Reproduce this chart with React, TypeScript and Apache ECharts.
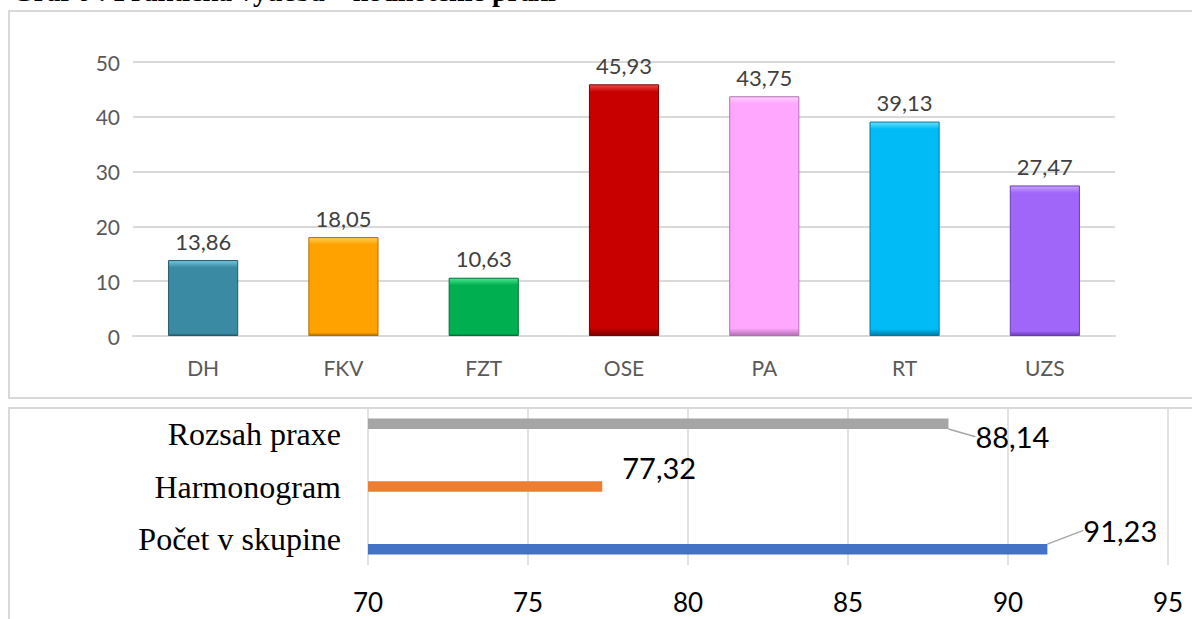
import React, { useEffect, useRef } from "react";
import * as echarts from "echarts";

// ---- Top chart data ----
const categories = ["DH", "FKV", "FZT", "OSE", "PA", "RT", "UZS"];
const values = [13.86, 18.05, 10.63, 45.93, 43.75, 39.13, 27.47];
const barColors = ["#3a8aa3", "#ffa200", "#00b050", "#c80000", "#ffa6ff", "#00bbf5", "#a066fa"];
const barHighlights = ["#74c8e0", "#ffd050", "#48e890", "#f04a4a", "#ffd2ff", "#66e2ff", "#c8a4ff"];
const barEdges = ["#245a6c", "#b06e00", "#00703a", "#7a0000", "#b070b0", "#0079a3", "#6a3cb3"];
const yTicksTop = { min: 0, max: 50, interval: 10 };

// ---- Bottom chart data ----
const rankCategories = ["Počet v skupine", "Harmonogram", "Rozsah praxe"];
const rankValues = [91.23, 77.32, 88.14];
const rankColors = ["#4472c4", "#ed7d31", "#a5a5a5"];
const xTicksBottom = { min: 70, max: 95, interval: 5 };

const title = "Graf 6 : Praktická výučba – hodnotenie praxí";

const fmt = (v: number) => String(v).replace(".", ",");

export default function App() {
  const ref = useRef<HTMLDivElement>(null);

  useEffect(() => {
    if (!ref.current) return;
    const chart = echarts.init(ref.current, null, { renderer: "svg" });

    const topPlotHeight = 274;
    const topBars = values.map((v, i) => {
      const px = (v / yTicksTop.max) * topPlotHeight;
      const hl = Math.min(0.5, 7 / px);
      return {
        value: v,
        itemStyle: {
          color: {
            type: "linear",
            x: 0,
            y: 0,
            x2: 0,
            y2: 1,
            colorStops: [
              { offset: 0, color: barHighlights[i] },
              { offset: hl, color: barColors[i] },
              { offset: 0.97, color: barColors[i] },
              { offset: 1, color: barEdges[i] },
            ],
          },
          borderColor: barEdges[i],
          borderWidth: 1,
        },
      };
    });

    // bottom: series order top-of-band first
    const seriesOrder = [2, 1, 0];
    const labelOffsets: Record<number, { dx: number; dy: number; line: boolean }> = {
      2: { dx: 22, dy: 13, line: true },
      1: { dx: 15, dy: -19, line: false },
      0: { dx: 31, dy: -19, line: true },
    };

    const bottomSeries = seriesOrder.map((idx) => ({
      type: "bar",
      name: rankCategories[idx],
      xAxisIndex: 1,
      yAxisIndex: 1,
      barWidth: 10.5,
      barGap: "0%",
      itemStyle: { color: rankColors[idx] },
      data: rankCategories.map((_, j) => (j === idx ? rankValues[idx] : "-")),
      label: {
        show: true,
        position: "right",
        distance: 5,
        formatter: (p: any) => fmt(p.value),
        fontFamily: "Lato",
        fontSize: 29,
        color: "#000",
      },
      labelLayout: { dx: labelOffsets[idx].dx, dy: labelOffsets[idx].dy },
      labelLine: {
        show: labelOffsets[idx].line,
        lineStyle: { color: "#a6a6a6", width: 1.5 },
      },
    }));

    chart.setOption({
      animation: false,
      backgroundColor: "#ffffff",
      graphic: [
        {
          type: "rect",
          shape: { x: 9, y: 11, width: 1220, height: 387 },
          style: { fill: "none", stroke: "#d9d9d9", lineWidth: 2 },
          silent: true,
        },
        {
          type: "rect",
          shape: { x: 9, y: 408, width: 1220, height: 300 },
          style: { fill: "none", stroke: "#d9d9d9", lineWidth: 2 },
          silent: true,
        },
        {
          type: "text",
          x: 12,
          y: 5,
          style: {
            text: title,
            font: 'bold 28px "Liberation Serif"',
            fill: "#000",
            verticalAlign: "bottom",
          },
          silent: true,
        },
      ],
      grid: [
        { left: 133, top: 62, width: 982, height: topPlotHeight },
        { left: 368, top: 408, width: 800, height: 157 },
      ],
      xAxis: [
        {
          gridIndex: 0,
          type: "category",
          data: categories,
          axisLine: { show: true, lineStyle: { color: "#d9d9d9", width: 2 } },
          axisTick: { show: false },
          axisLabel: { fontFamily: "Lato", fontSize: 21, color: "#595959", margin: 21 },
        },
        {
          gridIndex: 1,
          type: "value",
          min: xTicksBottom.min,
          max: xTicksBottom.max,
          interval: xTicksBottom.interval,
          axisLine: { show: false },
          axisTick: { show: false },
          splitLine: { show: true, lineStyle: { color: "#d9d9d9", width: 1.5 } },
          axisLabel: { fontFamily: "Lato", fontSize: 26, color: "#000", margin: 24 },
        },
      ],
      yAxis: [
        {
          gridIndex: 0,
          type: "value",
          min: yTicksTop.min,
          max: yTicksTop.max,
          interval: yTicksTop.interval,
          axisLine: { show: false },
          axisTick: { show: false },
          splitLine: { show: true, lineStyle: { color: "#d9d9d9", width: 2 } },
          axisLabel: { fontFamily: "Lato", fontSize: 21, color: "#595959", margin: 13 },
        },
        {
          gridIndex: 1,
          type: "category",
          data: rankCategories,
          axisLine: { show: false },
          axisTick: { show: false },
          splitLine: { show: false },
          axisLabel: { fontFamily: '"Liberation Serif"', fontSize: 32, color: "#000", margin: 27 },
        },
      ],
      series: [
        {
          type: "bar",
          xAxisIndex: 0,
          yAxisIndex: 0,
          barWidth: "50%",
          data: topBars,
          label: {
            show: true,
            position: "top",
            distance: 8,
            formatter: (p: any) => fmt(p.value),
            fontFamily: "Lato",
            fontSize: 22,
            color: "#404040",
          },
        },
        ...bottomSeries,
      ],
    });

    return () => chart.dispose();
  }, []);

  return (
    <div
      ref={ref}
      style={{ position: "absolute", left: 0, top: 0, width: 1192, height: 619 }}
    />
  );
}
